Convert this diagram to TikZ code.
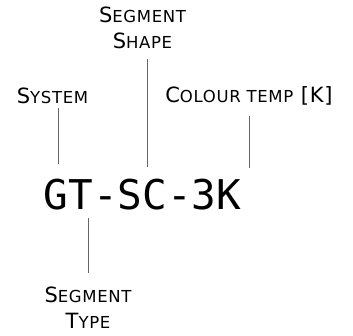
\documentclass[tikz,border=0pt]{standalone}
\usepackage{fontspec}
\setmainfont{DejaVu Sans}[LetterSpace=4]
\newfontfamily\codefont{DejaVu Sans Mono}
\usetikzlibrary{positioning}
\newcommand{\capsc}[2]{#1{\fontsize{16.5}{26}\selectfont\MakeUppercase{#2}}}

\begin{document}
\begin{tikzpicture}[x=1pt,y=1pt,
    lbl/.style={font=\fontsize{21}{26}\selectfont, align=center, inner sep=0pt},
    code/.style={font=\codefont\fontsize{41}{48}\selectfont, inner sep=0pt},
    lead/.style={draw=black!60, line width=0.8pt}
  ]
    \useasboundingbox (0,0) rectangle (353,336);

    \node[code] (pn) at (142.5,141) {GT-SC-3K};

    \node[lbl] (sys) at (52.5,240.5) {\capsc{S}{ystem}};
    \node[lbl] (shape) at (142.5,308) {\capsc{S}{egment}\\\capsc{S}{hape}};
    \node[lbl, anchor=base] (col) at (249,233) {\capsc{C}{olour temp} [K]};
    \node[lbl] (type) at (88,28.5) {\capsc{S}{egment}\\\capsc{T}{ype}};

    % leader ends just above / below the code
    \coordinate (sysend) at (58,172);
    \coordinate (shapeend) at (147,169);
    \coordinate (colend) at (249,168);
    \coordinate (typeend) at (88,118);

    \draw[lead] ([yshift=-4pt]sys.south -| sysend) -- (sysend);
    \draw[lead] ([yshift=-10pt]shape.south -| shapeend) -- (shapeend);
    \draw[lead] ([yshift=-10pt]col.south -| colend) -- (colend);
    \draw[lead] ([yshift=14pt]type.north -| typeend) -- (typeend);
\end{tikzpicture}
\end{document}
